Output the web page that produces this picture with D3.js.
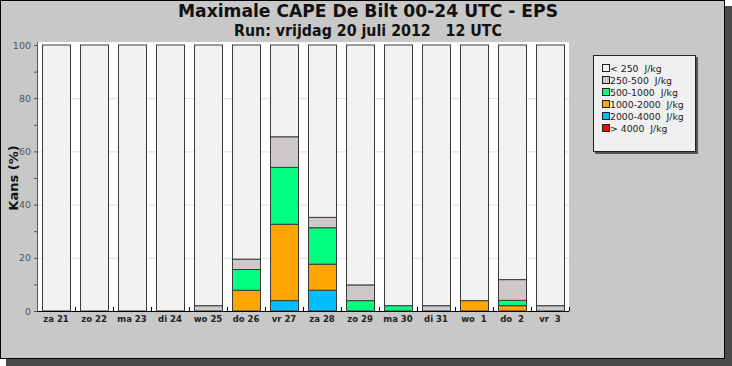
<!DOCTYPE html>
<html>
<head>
<meta charset="utf-8">
<script src="https://cdn.jsdelivr.net/npm/d3@7"></script>
<style>
  body { margin: 0; background: #ffffff; }
  svg { display: block; }
</style>
</head>
<body>
<div id="chart-area"></div>
<script>
// DATA
const days = ["za 21", "zo 22", "ma 23", "di 24", "wo 25", "do 26", "vr 27",
    "za 28", "zo 29", "ma 30", "di 31", "wo  1", "do  2", "vr  3"];
// kans (%) per klasse, per dag
const cls2000_4000 = [0, 0, 0, 0, 0, 0, 3.9, 7.8, 0, 0, 0, 0, 0, 0];
const cls1000_2000 = [0, 0, 0, 0, 0, 7.8, 28.7, 9.8, 0, 0, 0, 3.9, 2.0, 0];
const cls500_1000 = [0, 0, 0, 0, 0, 7.8, 21.4, 13.7, 3.9, 2.0, 0, 0, 2.0, 0];
const cls250_500 = [0, 0, 0, 0, 2.0, 3.9, 11.5, 3.9, 5.9, 0, 2.0, 0, 7.8, 2.0];
const cls4000 = [0, 0, 0, 0, 0, 0, 0, 0, 0, 0, 0, 0, 0, 0];
const yTicks = [0, 20, 40, 60, 80, 100];
const legendLabels = ["< 250  J/kg", "250-500  J/kg", "500-1000  J/kg",
    "1000-2000  J/kg", "2000-4000  J/kg", "> 4000  J/kg"];

const keys = ["c4000", "c2000", "c1000", "c500", "c250", "c0"];
const colors = {
    c4000: "#ff0000", c2000: "#00bfff", c1000: "#ffa500",
    c500: "#00ff7f", c250: "#cdc9c9", c0: "#f2f2f2"
};
const legendKeys = ["c0", "c250", "c500", "c1000", "c2000", "c4000"];

const table = days.map(function (d, i) {
    const row = {
        day: d,
        c4000: cls4000[i],
        c2000: cls2000_4000[i],
        c1000: cls1000_2000[i],
        c500: cls500_1000[i],
        c250: cls250_500[i]
    };
    row.c0 = 100 - row.c4000 - row.c2000 - row.c1000 - row.c500 - row.c250;
    return row;
});

const W = 732, H = 366;
const margin = { left: 37, top: 45, right: 163, bottom: 55 };
const width = W - margin.left - margin.right,
    height = H - margin.top - margin.bottom;

const svg = d3.select("#chart-area")
    .append("svg")
    .attr("width", W)
    .attr("height", H);

// FRAME + SHADOW
svg.append("rect")
    .attr("x", 6).attr("y", 6)
    .attr("width", 726).attr("height", 360)
    .attr("fill", "#4a4a4a");
svg.append("rect")
    .attr("x", 0.5).attr("y", 0.5)
    .attr("width", 724).attr("height", 358)
    .attr("fill", "#c8c8c8")
    .attr("stroke", "#000");

// TITLES
svg.append("text")
    .attr("x", 368).attr("y", 17)
    .attr("text-anchor", "middle")
    .attr("font-family", "DejaVu Sans Condensed, DejaVu Sans")
    .attr("font-stretch", "condensed")
    .attr("font-weight", "bold")
    .attr("font-size", "18px")
    .attr("textLength", 380)
    .attr("lengthAdjust", "spacingAndGlyphs")
    .attr("fill", "#111")
    .text("Maximale CAPE De Bilt 00-24 UTC - EPS");
svg.append("text")
    .attr("x", 368).attr("y", 35.5)
    .attr("text-anchor", "middle")
    .attr("font-family", "DejaVu Sans Condensed, DejaVu Sans")
    .attr("font-stretch", "condensed")
    .attr("font-weight", "bold")
    .attr("font-size", "15px")
    .attr("textLength", 268)
    .attr("lengthAdjust", "spacingAndGlyphs")
    .attr("fill", "#111")
    .style("white-space", "pre")
    .text("Run: vrijdag 20 juli 2012   12 UTC");

const g = svg.append("g")
    .attr("transform", "translate(" + margin.left + ", " + margin.top + ")");

const x = d3.scaleBand()
    .domain(days)
    .range([0, width])
    .paddingInner(0.26)
    .paddingOuter(0.13);

const y = d3.scaleLinear()
    .domain([0, 100])
    .range([height, 0]);

// plot background
g.append("rect")
    .attr("x", 0).attr("y", -3)
    .attr("width", width).attr("height", height + 3)
    .attr("fill", "#fff");

// gridlines
g.selectAll(".grid")
    .data(yTicks.filter(function (d) { return d > 0 && d < 100; }))
    .enter()
    .append("line")
    .attr("x1", 0).attr("x2", width)
    .attr("y1", function (d) { return y(d) + 0.5; })
    .attr("y2", function (d) { return y(d) + 0.5; })
    .attr("stroke", "#dcdcdc");

// BARS
const series = d3.stack().keys(keys)(table);
g.selectAll(".layer")
    .data(series)
    .enter()
    .append("g")
    .attr("fill", function (d) { return colors[d.key]; })
    .selectAll("rect")
    .data(function (d) { return d.filter(function (p) { return p[1] - p[0] > 0; }); })
    .enter()
    .append("rect")
    .attr("x", function (d) { return Math.round(x(d.data.day)) + 0.5; })
    .attr("y", function (d) { return y(d[1]); })
    .attr("width", Math.round(x.bandwidth()))
    .attr("height", function (d) { return y(d[0]) - y(d[1]); })
    .attr("stroke", "#3a3a3a")
    .attr("stroke-width", 1);

// Y AXIS
const yAxisCall = d3.axisLeft(y)
    .tickValues(d3.range(0, 101, 10))
    .tickSize(3)
    .tickFormat(function (d) { return d % 20 === 0 ? d : ""; });
const yAxis = g.append("g")
    .attr("class", "y-axis")
    .call(yAxisCall);
yAxis.select(".domain").attr("stroke", "#555").attr("d", "M0.5," + (-3) + "V" + height);
yAxis.selectAll("line").attr("stroke", "#555");
yAxis.selectAll("text")
    .attr("x", -6)
    .attr("font-family", "DejaVu Sans")
    .attr("font-size", "9.5px")
    .attr("fill", "#555");

// X AXIS
const xAxisCall = d3.axisBottom(x).tickSize(0).tickPadding(5);
const xAxis = g.append("g")
    .attr("class", "x-axis")
    .attr("transform", "translate(0, " + height + ")")
    .call(xAxisCall);
xAxis.select(".domain").attr("stroke", "#000").attr("d", "M0,0.5H" + width);
xAxis.selectAll("text")
    .attr("font-family", "DejaVu Sans")
    .attr("font-weight", "bold")
    .attr("font-size", "8.5px")
    .attr("fill", "#222")
    .style("white-space", "pre");

// tick marks at band boundaries
g.selectAll(".bticks")
    .data(days)
    .enter()
    .append("line")
    .attr("x1", function (d) { return x(d) - x.step() * 0.13 + x.step() + 0.5; })
    .attr("x2", function (d) { return x(d) - x.step() * 0.13 + x.step() + 0.5; })
    .attr("y1", height)
    .attr("y2", height - 4)
    .attr("stroke", "#000");

// Y LABEL
svg.append("text")
    .attr("transform", "rotate(-90)")
    .attr("x", -(margin.top + height / 2))
    .attr("y", 18)
    .attr("text-anchor", "middle")
    .attr("font-family", "DejaVu Sans")
    .attr("font-weight", "bold")
    .attr("font-size", "13px")
    .attr("fill", "#111")
    .text("Kans (%)");

// LEGEND
const lg = svg.append("g").attr("transform", "translate(593, 55)");
lg.append("rect")
    .attr("x", 2).attr("y", 2)
    .attr("width", 103).attr("height", 97)
    .attr("fill", "#555");
lg.append("rect")
    .attr("x", 0.5).attr("y", 0.5)
    .attr("width", 102).attr("height", 96)
    .attr("fill", "#f0f0f0")
    .attr("stroke", "#222");
const items = lg.selectAll(".item")
    .data(legendKeys)
    .enter()
    .append("g")
    .attr("transform", function (d, i) { return "translate(9, " + (9 + i * 12) + ")"; });
items.append("rect")
    .attr("x", 0.5).attr("y", 0.5)
    .attr("width", 7).attr("height", 7)
    .attr("fill", function (d) { return colors[d]; })
    .attr("stroke", "#222");
items.append("text")
    .attr("x", 8).attr("y", 8)
    .attr("font-family", "DejaVu Sans")
    .attr("font-size", "9.3px")
    .attr("fill", "#222")
    .style("white-space", "pre")
    .text(function (d, i) { return legendLabels[i]; });
</script>
</body>
</html>
